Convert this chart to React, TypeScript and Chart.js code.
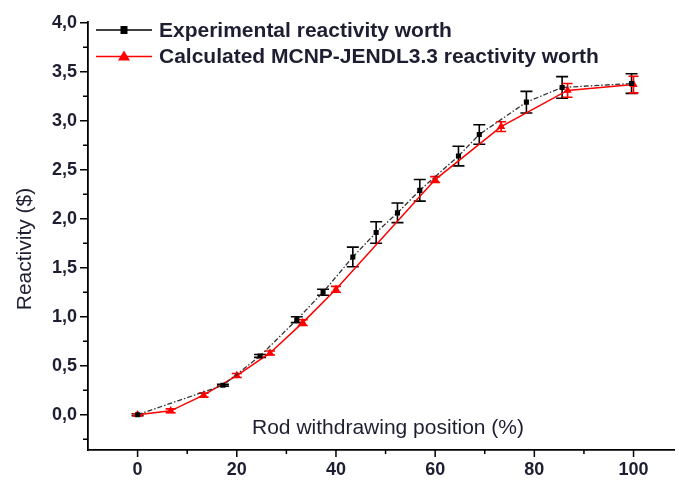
import React, { useEffect, useRef } from "react";
import { Chart, registerables } from "chart.js";

Chart.register(...registerables);

// ---- data ----
const expX = [0, 17.2, 24.7, 32.1, 37.4, 43.4, 48.1, 52.4, 56.9, 64.7, 68.9, 78.4, 85.6, 99.6];
const expY = [0, 0.3, 0.6, 0.97, 1.25, 1.61, 1.86, 2.06, 2.29, 2.64, 2.86, 3.19, 3.34, 3.38];
const expErr = [0.01, 0.01, 0.015, 0.03, 0.03, 0.1, 0.11, 0.1, 0.11, 0.1, 0.1, 0.11, 0.11, 0.1];

const calcX = [0, 6.67, 13.3, 20, 26.7, 33.3, 40, 60, 73.3, 86.7, 100];
const calcY = [0, 0.04, 0.2, 0.4, 0.63, 0.94, 1.28, 2.4, 2.94, 3.31, 3.37];
const calcErr = [0.01, 0.02, 0.02, 0.02, 0.02, 0.03, 0.03, 0.03, 0.05, 0.07, 0.085];

const seriesLabels = [
  "Experimental reactivity worth",
  "Calculated MCNP-JENDL3.3 reactivity worth",
];
const xTicks = [0, 20, 40, 60, 80, 100];
const xMinorTicks = [10, 30, 50, 70, 90];
const yTicks = [0, 0.5, 1, 1.5, 2, 2.5, 3, 3.5, 4];
const yMinorTicks = [-0.25, 0.25, 0.75, 1.25, 1.75, 2.25, 2.75, 3.25, 3.75];
const xTitle = "Rod withdrawing position (%)";
const yTitle = "Reactivity ($)";

const FONT = "'Liberation Sans', Arial, sans-serif";
const TEXT = "#1e1e32";

const errorBars = [expErr, calcErr];
const capHalf = [6, 5];

export default function App() {
  const ref = useRef<HTMLCanvasElement | null>(null);

  useEffect(() => {
    document.body.style.margin = "0";
    const canvas = ref.current;
    if (!canvas) return;

    const errorBarPlugin = {
      id: "errorBars",
      beforeDatasetsDraw(chart: any) {
        const ctx = chart.ctx;
        const ys = chart.scales.y;
        chart.data.datasets.forEach((ds: any, i: number) => {
          const meta = chart.getDatasetMeta(i);
          const errs = errorBars[i];
          ctx.save();
          ctx.strokeStyle = i === 1 ? "#ff0000" : "#000000";
          ctx.lineWidth = 1.6;
          meta.data.forEach((pt: any, j: number) => {
            const v = ds.data[j].y;
            const e = errs[j];
            const top = ys.getPixelForValue(v + e);
            const bot = ys.getPixelForValue(v - e);
            const x = pt.x;
            const h = capHalf[i];
            ctx.beginPath();
            ctx.moveTo(x, top);
            ctx.lineTo(x, bot);
            ctx.moveTo(x - h, top);
            ctx.lineTo(x + h, top);
            ctx.moveTo(x - h, bot);
            ctx.lineTo(x + h, bot);
            ctx.stroke();
          });
          ctx.restore();
        });
      },
    };

    const decorPlugin = {
      id: "decor",
      afterDraw(chart: any) {
        const ctx = chart.ctx;
        const xs = chart.scales.x;
        const ys = chart.scales.y;
        const area = chart.chartArea;
        ctx.save();
        // tick marks
        ctx.strokeStyle = "#000";
        ctx.lineWidth = 1.5;
        ctx.beginPath();
        xTicks.forEach((v) => {
          const px = xs.getPixelForValue(v);
          ctx.moveTo(px, area.bottom);
          ctx.lineTo(px, area.bottom + 7);
        });
        xMinorTicks.forEach((v) => {
          const px = xs.getPixelForValue(v);
          ctx.moveTo(px, area.bottom);
          ctx.lineTo(px, area.bottom + 4);
        });
        yTicks.forEach((v) => {
          const py = ys.getPixelForValue(v);
          ctx.moveTo(area.left, py);
          ctx.lineTo(area.left - 8, py);
        });
        yMinorTicks.forEach((v) => {
          const py = ys.getPixelForValue(v);
          ctx.moveTo(area.left, py);
          ctx.lineTo(area.left - 5, py);
        });
        ctx.stroke();

        // axis titles
        ctx.fillStyle = TEXT;
        ctx.font = `21px ${FONT}`;
        ctx.textAlign = "center";
        ctx.textBaseline = "middle";
        ctx.fillText(xTitle, 388, 428);
        ctx.save();
        ctx.translate(25, 249);
        ctx.rotate(-Math.PI / 2);
        ctx.fillText(yTitle, 0, 0);
        ctx.restore();

        // legend
        const rows = [
          { y: 30, color: "#000000", shape: "rect" },
          { y: 56.5, color: "#ff0000", shape: "tri" },
        ];
        rows.forEach((r, i) => {
          ctx.strokeStyle = r.color;
          ctx.fillStyle = r.color;
          ctx.lineWidth = 1.6;
          ctx.beginPath();
          ctx.moveTo(96, r.y);
          ctx.lineTo(152, r.y);
          ctx.stroke();
          if (r.shape === "rect") {
            ctx.fillRect(124 - 3.5, r.y - 4, 7, 8);
          } else {
            ctx.beginPath();
            ctx.moveTo(124, r.y - 6);
            ctx.lineTo(130, r.y + 4);
            ctx.lineTo(118, r.y + 4);
            ctx.closePath();
            ctx.fill();
          }
          ctx.fillStyle = TEXT;
          ctx.font = `bold 21px ${FONT}`;
          ctx.textAlign = "left";
          ctx.textBaseline = "middle";
          ctx.fillText(seriesLabels[i], 159, r.y + 1);
        });
        ctx.restore();
      },
    };

    const chart = new Chart(canvas, {
      type: "line",
      data: {
        datasets: [
          {
            label: seriesLabels[0],
            data: expX.map((x, i) => ({ x, y: expY[i] })),
            borderColor: "#333333",
            backgroundColor: "#000000",
            borderWidth: 1.3,
            borderDash: [5, 2, 1.5, 2],
            pointStyle: "rect",
            pointRadius: 3.6,
            pointBorderWidth: 0,
            pointBackgroundColor: "#000000",
            tension: 0,
          },
          {
            label: seriesLabels[1],
            data: calcX.map((x, i) => ({ x, y: calcY[i] })),
            borderColor: "#ff0000",
            backgroundColor: "#ff0000",
            borderWidth: 1.5,
            pointStyle: "triangle",
            pointRadius: 4.8,
            pointBorderWidth: 0,
            pointBackgroundColor: "#ff0000",
            tension: 0,
          },
        ],
      },
      options: {
        responsive: false,
        animation: false,
        events: [],
        layout: { padding: { top: 19, left: 0, right: 0, bottom: 0 } },
        plugins: {
          legend: { display: false },
          tooltip: { enabled: false },
          title: { display: false },
        },
        scales: {
          x: {
            type: "linear",
            min: -10,
            max: 108.2,
            grid: { display: false, drawTicks: false },
            border: { display: true, color: "#000", width: 1.8 },
            afterBuildTicks: (scale: any) => {
              scale.ticks = xTicks.map((v) => ({ value: v }));
            },
            afterFit: (scale: any) => {
              scale.height = 30;
            },
            ticks: {
              padding: 9,
              color: TEXT,
              font: { family: FONT, size: 18, weight: "bold" },
              callback: (v: any) => String(v),
              maxRotation: 0,
              autoSkip: false,
            },
          },
          y: {
            type: "linear",
            min: -0.36,
            max: 4.01,
            grid: { display: false, drawTicks: false },
            border: { display: true, color: "#000", width: 1.8 },
            afterBuildTicks: (scale: any) => {
              scale.ticks = yTicks.map((v) => ({ value: v }));
            },
            afterFit: (scale: any) => {
              scale.width = 88;
            },
            ticks: {
              padding: 11,
              color: TEXT,
              font: { family: FONT, size: 18, weight: "bold" },
              callback: (v: any) => Number(v).toFixed(1).replace(".", ","),
              autoSkip: false,
            },
          },
        },
      },
      plugins: [errorBarPlugin, decorPlugin],
    } as any);

    return () => chart.destroy();
  }, []);

  return (
    <div style={{ width: 679, height: 480 }}>
      <canvas ref={ref} width={679} height={480} style={{ display: "block" }} />
    </div>
  );
}
